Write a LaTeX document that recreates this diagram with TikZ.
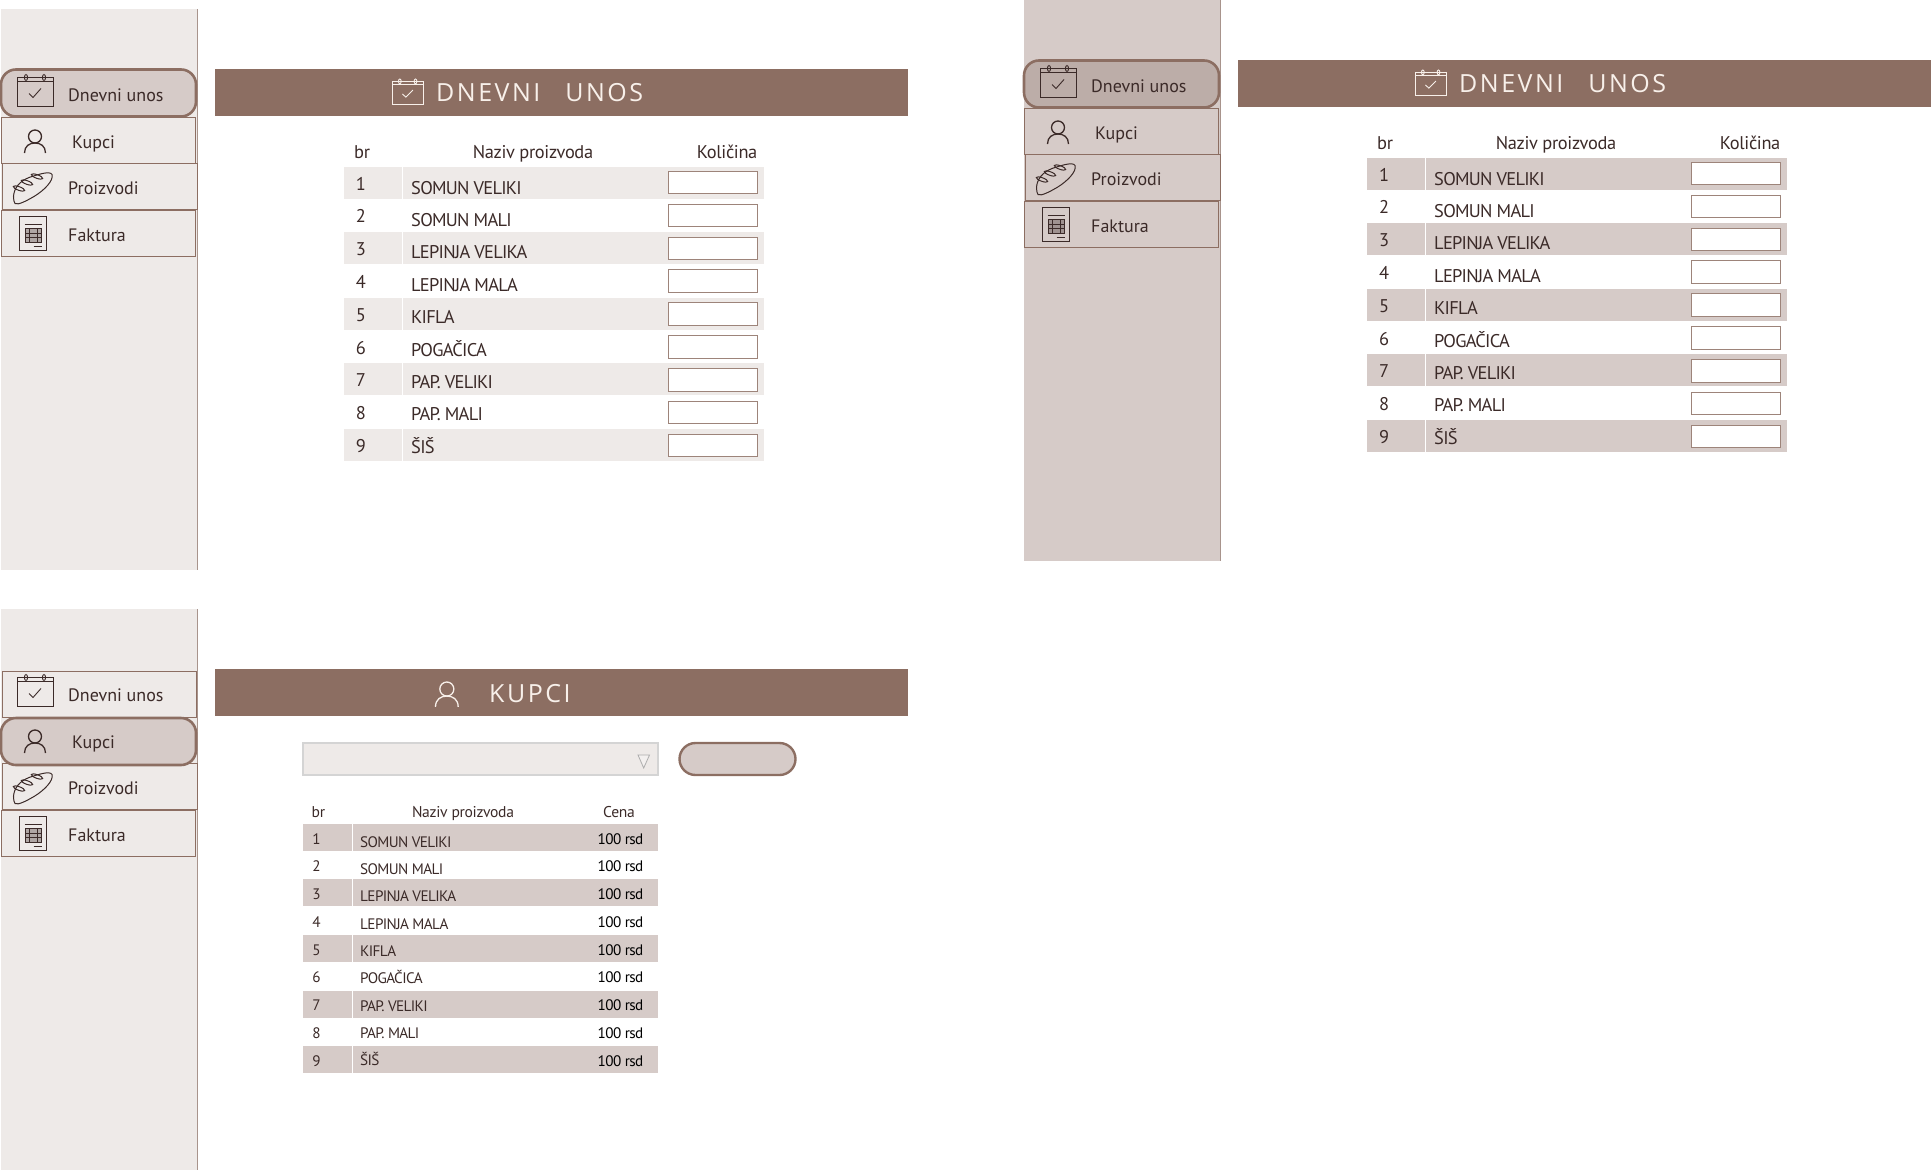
\documentclass[tikz,border=0pt]{standalone}
\usepackage{fontspec}
\setmainfont{PT Sans}
\newfontfamily\titlefont[LetterSpace=10]{Open Sans}
\newfontfamily\rowfont[LetterSpace=-4]{PT Sans}
\newfontfamily\headfont[LetterSpace=-2]{PT Sans}
\usetikzlibrary{positioning}
\definecolor{brownbar}{HTML}{8C6E62}
\definecolor{palefill}{HTML}{EEEAE8}
\definecolor{rosefill}{HTML}{D6CBC8}
\definecolor{deepfill}{HTML}{BCADA8}
\definecolor{edgeline}{HTML}{A8948C}
\definecolor{inkline}{HTML}{3B2A28}
\definecolor{cream}{HTML}{F8F0EA}
\colorlet{sidecol}{palefill}
\colorlet{activecol}{rosefill}
\colorlet{barcol}{rosefill}
\newcommand{\productlist}{1/SOMUN VELIKI,2/SOMUN MALI,3/LEPINJA VELIKA,4/LEPINJA MALA,5/KIFLA,6/POGAČICA,7/PAP. VELIKI,8/PAP. MALI,9/ŠIŠ}
\tikzset {
  % plain block, sized by hand
  block/.style = {
    rectangle,
    anchor = north west,
    inner sep = 0,
    outer sep = 0
  },
  sidebar/.style = {
    block,
    fill = sidecol,
    minimum width = 196pt,
    minimum height = 560.5pt
  },
  % menu entries
  menuitem/.style = {
    rectangle,
    draw = brownbar,
    fill = sidecol,
    line width = 0.9pt,
    inner sep = 0,
    outer sep = 0,
    minimum width = 194pt,
    minimum height = 46pt
  },
  menuactive/.style = {
    menuitem,
    fill = activecol,
    line width = 2.6pt,
    rounded corners = 15pt,
    minimum width = 195pt,
    minimum height = 47pt
  },
  menulabel/.style = {
    anchor = base west,
    inner sep = 0,
    text = inkline,
    font = \fontsize{18}{20}\selectfont
  },
  % title bar
  titlebar/.style = {
    block,
    fill = brownbar,
    minimum width = 693pt,
    minimum height = 47pt
  },
  titletext/.style = {
    anchor = base west,
    inner sep = 0,
    text = cream,
    font = \titlefont\fontsize{25}{28}\selectfont
  },
  % tables
  rowbar/.style = {
    block,
    fill = barcol,
    minimum height = 32pt
  },
  headbig/.style = {
    inner sep = 0,
    text = inkline,
    font = \headfont\fontsize{18.4}{20}\selectfont
  },
  cellbig/.style = {
    inner sep = 0,
    text = inkline,
    font = \rowfont\fontsize{18.4}{20}\selectfont
  },
  numbig/.style = {
    inner sep = 0,
    text = inkline,
    font = \fontsize{18.4}{20}\selectfont
  },
  headsmall/.style = {
    inner sep = 0,
    text = inkline,
    font = \headfont\fontsize{15.6}{17}\selectfont
  },
  cellsmall/.style = {
    inner sep = 0,
    text = inkline,
    font = \rowfont\fontsize{15.2}{17}\selectfont
  },
  numsmall/.style = {
    inner sep = 0,
    text = inkline,
    font = \fontsize{15.2}{17}\selectfont
  },
  inputbox/.style = {
    block,
    draw = brownbar!85,
    fill = white,
    line width = 0.9pt,
    minimum width = 89.5pt,
    minimum height = 22.5pt
  },
  % icons, origin at the top left
  calendar icon/.pic = {
    \draw[line width = 0.9pt] (0,6.5) rectangle (36,32);
    \draw[line width = 0.9pt] (0,6.5) -- (0,3) -- (36,3) -- (36,6.5);
    \draw[line width = 0.9pt] (9,3) ellipse (1.6 and 3);
    \draw[line width = 0.9pt] (27,3) ellipse (1.6 and 3);
    \draw[line width = 0.9pt] (12,19) -- (16,23) -- (24,14);
  },
  user icon/.pic = {
    \draw[line width = 1.3pt] (10.5,6.5) circle (6.5);
    \draw[line width = 1.3pt] (0,23) .. controls (0,16) and (5,13) .. (10.5,13)
      .. controls (16,13) and (21,16) .. (21,23);
  },
  bread icon/.pic = {
    \draw[line width = 1pt] (0.5,25)
      .. controls (1,17) and (6,10) .. (16,6)
      .. controls (25,3) and (37,-1) .. (39,3)
      .. controls (41,9) and (31,19) .. (21,25)
      .. controls (14,29) and (5,34) .. (2,32)
      .. controls (1,31) and (0.5,28) .. (0.5,25) -- cycle;
    \foreach \cx/\cy in {6/17,14/11,24/5} {
      \draw[line width = 1pt, rotate around = {-20:(\cx,\cy)}] (\cx,\cy) ellipse (6 and 1.8);
    }
  },
  invoice icon/.pic = {
    \draw[line width = 1.7pt] (0,0) rectangle (27,34);
    \draw[line width = 0.8pt] (5,8) -- (22,8);
    \fill[opacity = 0.35] (6,12) rectangle (22,26);
    \draw[line width = 1.5pt] (6,12) rectangle (22,26);
    \draw[line width = 1.2pt] (6,16.7) -- (22,16.7) (6,21.3) -- (22,21.3) (10,12) -- (10,26) (18,12) -- (18,26);
    \draw[line width = 0.8pt] (14,30) -- (22,30);
  }
}
% the side column, #2 and #3 carry style and place of the first two entries
\newcommand{\sidemenu}[3]{
  \node[sidebar] (#1-side) at (1,9) {};
  \draw[edgeline, line width = 0.8pt] (#1-side.north east) -- (#1-side.south east);
  \node[#2] (#1-dnevni) {};
  \node[menuitem, minimum width = 194.5pt] (#1-proizvodi) at (99.7,186.5) {};
  \node[menuitem] (#1-faktura) [below = 0.5pt of #1-proizvodi, xshift = -1.2pt] {};
  \node[#3] (#1-kupci) {};
  \pic[color = inkline] at (17,74.5) {calendar icon};
  \pic[color = inkline] at (24.5,130) {user icon};
  \pic[color = inkline] at (13,171.5) {bread icon};
  \pic[color = inkline] at (19.5,216.5) {invoice icon};
  \node[menulabel] (#1-t1) at (68,101) {Dnevni unos};
  \node[menulabel] (#1-t2) at (72,148.5) {Kupci};
  \node[menulabel] (#1-t3) at (68,194.5) {Proizvodi};
  \node[menulabel] (#1-t4) at (68,241.5) {Faktura};
}
% table with input boxes
\newcommand{\quantitytable}[1]{
  \node[headbig, anchor = base west] (#1-hbr) at (354,158) {br};
  \node[headbig, anchor = base] (#1-hname) at (533,158) {Naziv proizvoda};
  \node[headbig, anchor = base east] (#1-hqty) at (757.5,158) {Količina};
  \foreach \i/\name [evaluate = \i as \rowtop using 167 + (\i-1)*32.7,
      evaluate = \i as \numbase using 190 + (\i-1)*32.83,
      evaluate = \i as \namebase using 194 + (\i-1)*32.42,
      evaluate = \i as \boxtop using 171.3 + (\i-1)*32.87] in \productlist {
    \ifodd\i
      \node[rowbar, minimum width = 57.5pt] (#1-numbar-\i) at (344,\rowtop) {};
      \node[rowbar, minimum width = 361pt] (#1-namebar-\i) at (402.5,\rowtop) {};
    \fi
    \node[numbig, anchor = base] (#1-num-\i) at (361,\numbase) {\i};
    \node[cellbig, anchor = base west] (#1-name-\i) at (411,\namebase) {\name};
    \node[inputbox] (#1-input-\i) at (668,\boxtop) {};
  }
}
\begin{document}
\begin{tikzpicture}[x = 1pt, y = -1pt]
  \useasboundingbox (0,0) rectangle (1931,1170);

  % daily entry, pale
  \begin{scope}
    \colorlet{sidecol}{palefill}
    \colorlet{activecol}{rosefill}
    \colorlet{barcol}{palefill}
    \sidemenu{a}{menuactive, at = {(98.5,93)}}{menuitem, at = {(98.5,140)}}
    \node[titlebar] (a-bar) at (215,69) {};
    \pic[color = cream, xscale = 0.87, yscale = 0.79] at (392,79) {calendar icon};
    \node[titletext] (a-title) at (436,101) {DNEVNI\hspace{25pt}UNOS};
    \quantitytable{a}
  \end{scope}

  % daily entry, darker
  \begin{scope}[shift = {(1023,-9)}]
    \colorlet{sidecol}{rosefill}
    \colorlet{activecol}{deepfill}
    \colorlet{barcol}{rosefill}
    \sidemenu{b}{menuactive, at = {(98.5,93)}}{menuitem, at = {(98.5,140)}}
    \node[titlebar] (b-bar) at (215,69) {};
    \pic[color = cream, xscale = 0.87, yscale = 0.79] at (392,79) {calendar icon};
    \node[titletext] (b-title) at (436,101) {DNEVNI\hspace{25pt}UNOS};
    \quantitytable{b}
  \end{scope}

  % customers
  \begin{scope}[shift = {(0,600)}]
    \colorlet{sidecol}{palefill}
    \colorlet{activecol}{rosefill}
    \colorlet{barcol}{rosefill}
    \sidemenu{c}{menuitem, at = {(99.7,94)}}{menuactive, at = {(98.5,141.5)}}
    \node[titlebar] (c-bar) at (215,69) {};
    \pic[color = cream, scale = 1.08] at (435.5,82) {user icon};
    \node[titletext] (c-title) at (489,102) {KUPCI};
  \end{scope}
  \node[block, draw = black!17, fill = palefill, line width = 1.1pt, minimum width = 355pt, minimum height = 32pt] (combo) at (303,743) {};
  \coordinate (combo-arrow) at (643.7,768);
  \draw[black!32, fill = palefill!70, line width = 0.8pt] (638,755) -- (649.5,755) -- (combo-arrow) -- cycle;
  \node[block, draw = brownbar, fill = rosefill, line width = 2.4pt, rounded corners = 16pt, minimum width = 116pt, minimum height = 32pt] (button) at (679.5,743) {};

  \node[headsmall, anchor = base west] (c-hbr) at (311.5,817.5) {br};
  \node[headsmall, anchor = base] (c-hname) at (463,817.5) {Naziv proizvoda};
  \node[headsmall, anchor = base] (c-hprice) at (619,817.5) {Cena};
  \foreach \i/\name [evaluate = \i as \rowtop using 823.6 + (\i-1)*27.85,
      evaluate = \i as \numbase using 844 + (\i-1)*27.75,
      evaluate = \i as \namebase using 847 + (\i-1)*27.35] in \productlist {
    \ifodd\i
      \node[rowbar, fill = rosefill, minimum height = 27pt, minimum width = 49pt] (c-numbar-\i) at (303,\rowtop) {};
      \node[rowbar, fill = rosefill, minimum height = 27pt, minimum width = 305pt] (c-namebar-\i) at (353,\rowtop) {};
    \fi
    \node[numsmall, anchor = base] (c-num-\i) at (316.5,\numbase) {\i};
    \node[cellsmall, anchor = base west] (c-name-\i) at (360,\namebase) {\name};
    \node[cellsmall, anchor = base east, text = black] (c-price-\i) at (643.5,\numbase) {100 rsd};
  }
\end{tikzpicture}
\end{document}
